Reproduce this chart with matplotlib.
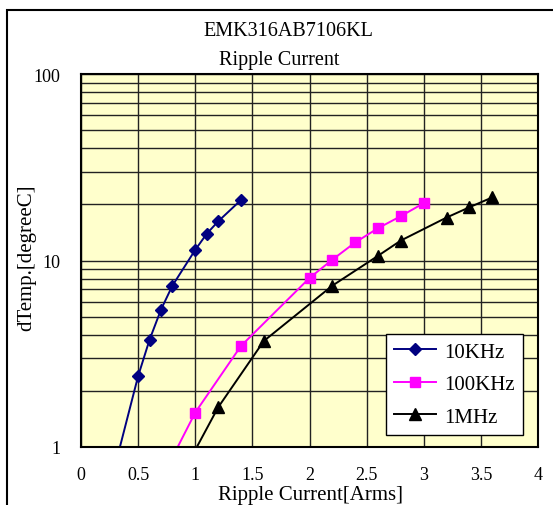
import matplotlib
matplotlib.use('Agg')
import matplotlib.pyplot as plt
from matplotlib.patches import Rectangle
from matplotlib.ticker import FixedLocator, NullFormatter

plt.rcParams['font.family'] = ['Liberation Serif', 'DejaVu Serif']

# --- Data (points below 1 are clipped by the axis) ---
x_10k = [0.3, 0.5, 0.6, 0.7, 0.8, 1.0, 1.1, 1.2, 1.4]
y_10k = [0.8, 2.4, 3.76, 5.45, 7.33, 11.4, 13.9, 16.2, 21.1]

x_100k = [0.8, 1.0, 1.4, 2.0, 2.2, 2.4, 2.6, 2.8, 3.0]
y_100k = [0.88, 1.53, 3.48, 8.06, 10.1, 12.5, 14.9, 17.3, 20.3]

x_1m = [0.8, 1.2, 1.6, 2.2, 2.6, 2.8, 3.2, 3.4, 3.6]
y_1m = [0.57, 1.63, 3.70, 7.33, 10.6, 12.8, 17.0, 19.3, 21.8]

x_ticks = [0, 0.5, 1, 1.5, 2, 2.5, 3, 3.5, 4]
x_tick_labels = ['0', '0.5', '1', '1.5', '2', '2.5', '3', '3.5', '4']
y_ticks = [1, 10, 100]
y_tick_labels = ['1', '10', '100']

W, H = 553, 506
fig = plt.figure(figsize=(W / 100, H / 100), dpi=100)

# axes box in pixels: left 81, right 538, top 75, bottom 448
ax = fig.add_axes([81 / W, 1 - 448 / H, 457 / W, 373 / H])
ax.set_facecolor('#FFFFCC')
ax.set_yscale('log')
ax.set_xlim(0, 4)
ax.set_ylim(1, 100)

# grid
ax.set_xticks(x_ticks)
ax.set_xticklabels(x_tick_labels)
ax.yaxis.set_major_locator(FixedLocator(y_ticks))
ax.set_yticklabels(y_tick_labels)
ax.yaxis.set_minor_locator(FixedLocator([k * d for d in (1, 10) for k in range(2, 10)]))
ax.yaxis.set_minor_formatter(NullFormatter())
ax.grid(True, which='both', axis='y', color='#222222', lw=1.0)
ax.grid(True, which='major', axis='x', color='#222222', lw=1.0)
ax.set_axisbelow(True)
ax.tick_params(which='both', length=0, labelsize=13)
ax.tick_params(axis='x', pad=14)
ax.tick_params(axis='y', pad=15)
for s in ax.spines.values():
    s.set_linewidth(1.5)
    s.set_color('black')

# series
ax.plot(x_10k, y_10k, color='#000080', lw=1.4, marker='D', ms=6.5, label='10KHz')
ax.plot(x_100k, y_100k, color='#FF00FF', lw=1.4, marker='s', ms=7, label='100KHz')
ax.plot(x_1m, y_1m, color='black', lw=1.4, marker='^', ms=8, label='1MHz')

leg = ax.legend(loc='lower right', bbox_to_anchor=(0.967, 0.032), fontsize=15,
                frameon=True, fancybox=False, framealpha=1, edgecolor='black',
                handlelength=2.0, labelspacing=0.62, borderpad=0.4, handletextpad=0.4,
                borderaxespad=0)
leg.get_frame().set_linewidth(1.0)

# titles and axis labels
fig.text(288 / W, 1 - 31 / H, 'EMK316AB7106KL', ha='center', va='center', fontsize=14.5)
fig.text(279 / W, 1 - 60 / H, 'Ripple Current', ha='center', va='center', fontsize=14.5)
fig.text(310 / W, 1 - 496 / H, 'Ripple Current[Arms]', ha='center', va='center', fontsize=15)
fig.text(27 / W, 1 - 258 / H, 'dTemp.[degreeC]', ha='center', va='center',
         rotation=90, fontsize=15)

# outer chart frame
fig.patches.append(Rectangle((7 / W, -0.1), 2, 1.1 - 11 / H, transform=fig.transFigure,
                             fill=False, lw=1.5, edgecolor='black'))

plt.savefig('out.png', dpi=100)
